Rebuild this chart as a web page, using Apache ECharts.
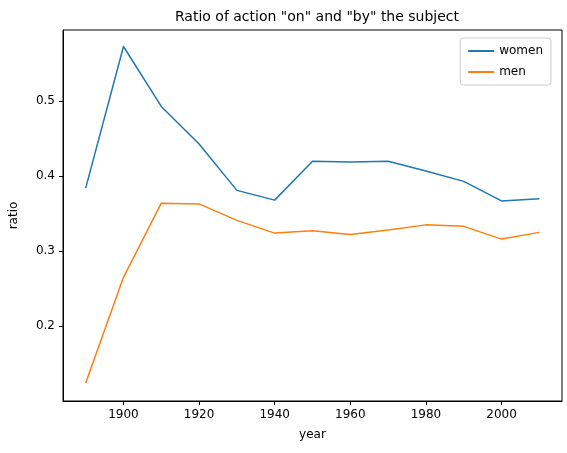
<!DOCTYPE html>
<html>
<head>
<meta charset="utf-8">
<script src="https://cdn.jsdelivr.net/npm/echarts@6/dist/echarts.min.js"></script>
<style>html,body{margin:0;padding:0;background:#fff}#main{width:567px;height:453px}</style>
</head>
<body>
<div id="main"></div>
<script>
var years = [1890, 1900, 1910, 1920, 1930, 1940, 1950, 1960, 1970, 1980, 1990, 2000, 2010];
var women = [0.384, 0.573, 0.493, 0.443, 0.381, 0.368, 0.420, 0.419, 0.420, 0.407, 0.393, 0.367, 0.370];
var men = [0.124, 0.265, 0.364, 0.363, 0.341, 0.324, 0.327, 0.322, 0.328, 0.335, 0.333, 0.316, 0.325];
var xTicks = [1900, 1920, 1940, 1960, 1980, 2000];
var yTicks = [0.2, 0.3, 0.4, 0.5];

var font = 'DejaVu Sans';
var pair = function (arr) {
  return years.map(function (y, i) { return [y, arr[i]]; });
};

var chart = echarts.init(document.getElementById('main'));
chart.setOption({
  animation: false,
  title: {
    text: 'Ratio of action "on" and "by" the subject',
    left: 312, top: 5, textAlign: 'center',
    textStyle: { fontFamily: font, fontSize: 14, fontWeight: 'normal', color: '#000' }
  },
  legend: {
    right: 16, top: 38, orient: 'vertical',
    itemWidth: 26, itemHeight: 2, itemGap: 9,
    borderColor: '#ccc', borderWidth: 1, borderRadius: 3, padding: [7, 8],
    icon: 'rect',
    textStyle: { fontFamily: font, fontSize: 12, color: '#000' },
    data: ['women', 'men']
  },
  grid: { left: 63, right: 5, top: 30, bottom: 52, show: true, borderColor: '#000', borderWidth: 1 },
  xAxis: {
    type: 'value', min: 1884, max: 2016,
    name: 'year', nameLocation: 'middle', nameGap: 28,
    nameTextStyle: { fontFamily: font, fontSize: 12, color: '#000' },
    axisLine: { lineStyle: { color: '#000' } },
    axisTick: { customValues: xTicks, length: 4, lineStyle: { color: '#000' } },
    axisLabel: { customValues: xTicks, fontFamily: font, fontSize: 12, color: '#000',
      formatter: function (v) { return String(v); } },
    splitLine: { show: false }
  },
  yAxis: {
    type: 'value', min: 0.1, max: 0.595,
    name: 'ratio', nameLocation: 'middle', nameGap: 43,
    nameTextStyle: { fontFamily: font, fontSize: 12, color: '#000' },
    axisLine: { show: true, lineStyle: { color: '#000' } },
    axisTick: { show: true, customValues: yTicks, length: 4, lineStyle: { color: '#000' } },
    axisLabel: { customValues: yTicks, fontFamily: font, fontSize: 12, color: '#000',
      formatter: function (v) { return v.toFixed(1); } },
    splitLine: { show: false }
  },
  series: [
    { name: 'women', type: 'line', data: pair(women), showSymbol: false, color: '#1f77b4', lineStyle: { width: 1.5 } },
    { name: 'men', type: 'line', data: pair(men), showSymbol: false, color: '#ff7f0e', lineStyle: { width: 1.5 } }
  ]
});
</script>
</body>
</html>
